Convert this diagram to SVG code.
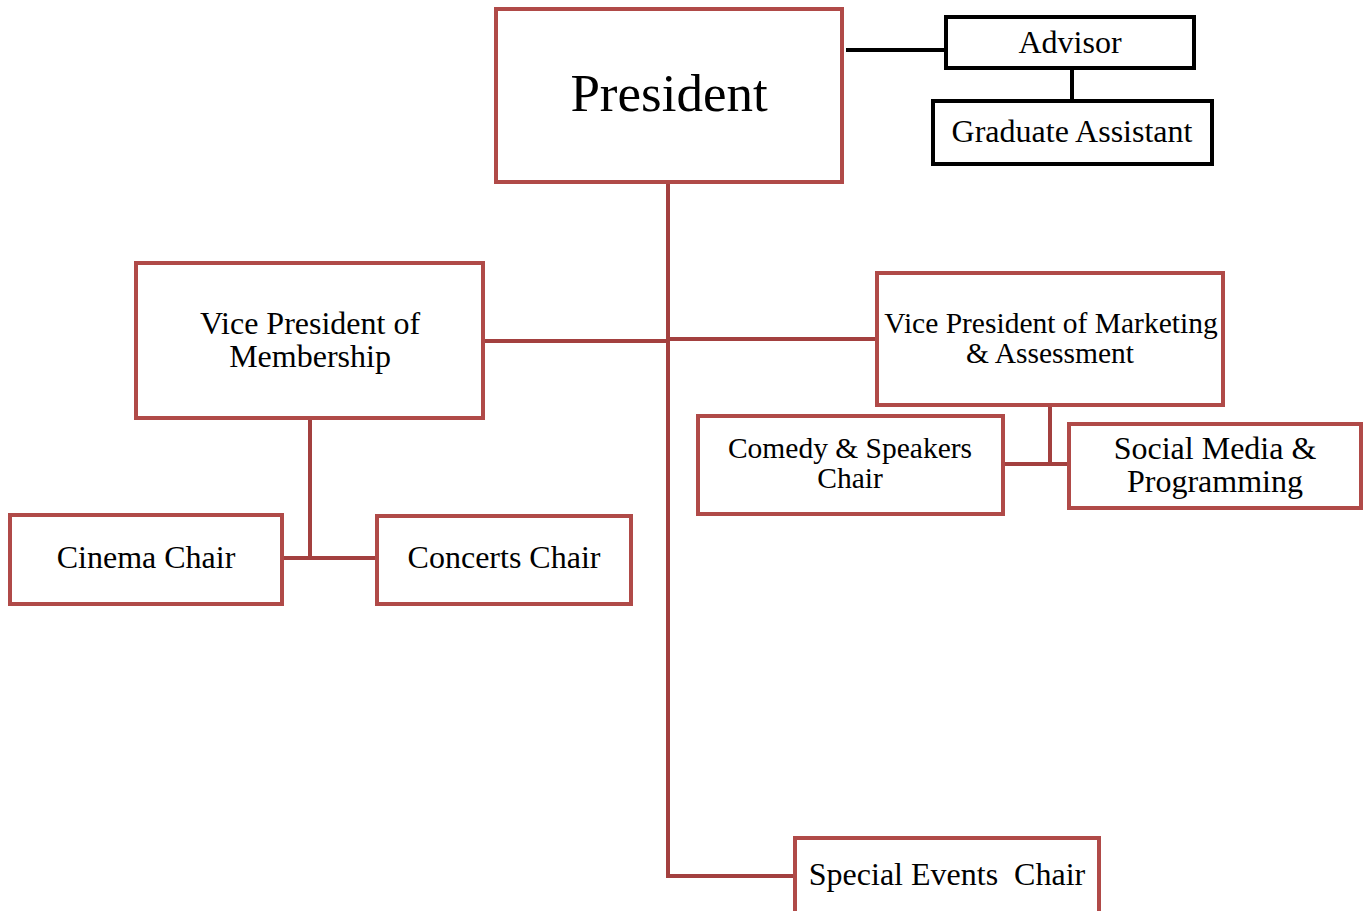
<svg xmlns="http://www.w3.org/2000/svg" width="1364" height="911" viewBox="0 0 1364 911">
<style>
.box{fill:#fff;stroke:#B04A48;stroke-width:4}
.bbox{fill:#fff;stroke:#000;stroke-width:4}
.con{stroke:#A3403F;stroke-width:4;fill:none}
.bcon{stroke:#000;stroke-width:4;fill:none}
text{font-family:"Liberation Serif","Times New Roman",serif;fill:#000;text-anchor:middle}
.t{font-size:32px}
.s{font-size:29.5px}
</style>
<rect width="1364" height="911" fill="#fff"/>
<g id="connectors">
<path class="bcon" d="M846 50H946"/>
<path class="bcon" d="M1072 68V101"/>
<path class="con" d="M668 182V876H795"/>
<path class="con" d="M483 341H668"/>
<path class="con" d="M668 339H877"/>
<path class="con" d="M310 418V558"/>
<path class="con" d="M282 558H377"/>
<path class="con" d="M1050 405V465"/>
<path class="con" d="M1003 464H1069"/>
</g>
<g id="president"><rect class="box" x="496" y="9" width="346" height="173"/><text x="669" y="111" style="font-size:53px">President</text></g>
<g id="advisor"><rect class="bbox" x="946" y="17" width="248" height="51"/><text class="t" x="1070" y="53">Advisor</text></g>
<g id="grad"><rect class="bbox" x="933" y="101" width="279" height="63"/><text class="t" x="1072" y="142">Graduate Assistant</text></g>
<g id="vpm"><rect class="box" x="136" y="263" width="347" height="155"/><text class="t" x="310" y="334">Vice President of</text><text class="t" x="310" y="367">Membership</text></g>
<g id="vpma"><rect class="box" x="877" y="273" width="346" height="132"/><text class="s" x="1051" y="333">Vice President of Marketing</text><text class="s" x="1050" y="363">&amp; Assessment</text></g>
<g id="comedy"><rect class="box" x="698" y="416" width="305" height="98"/><text class="s" x="850" y="458">Comedy &amp; Speakers</text><text class="s" x="850" y="488">Chair</text></g>
<g id="social"><rect class="box" x="1069" y="424" width="292" height="84"/><text class="t" x="1215" y="459">Social Media &amp;</text><text class="t" x="1215" y="492">Programming</text></g>
<g id="cinema"><rect class="box" x="10" y="515" width="272" height="89"/><text class="t" x="146" y="568">Cinema Chair</text></g>
<g id="concerts"><rect class="box" x="377" y="516" width="254" height="88"/><text class="t" x="504" y="568">Concerts Chair</text></g>
<g id="special"><rect class="box" x="795" y="838" width="304" height="80"/><text class="t" x="947" y="885" xml:space="preserve">Special Events  Chair</text></g>
</svg>
